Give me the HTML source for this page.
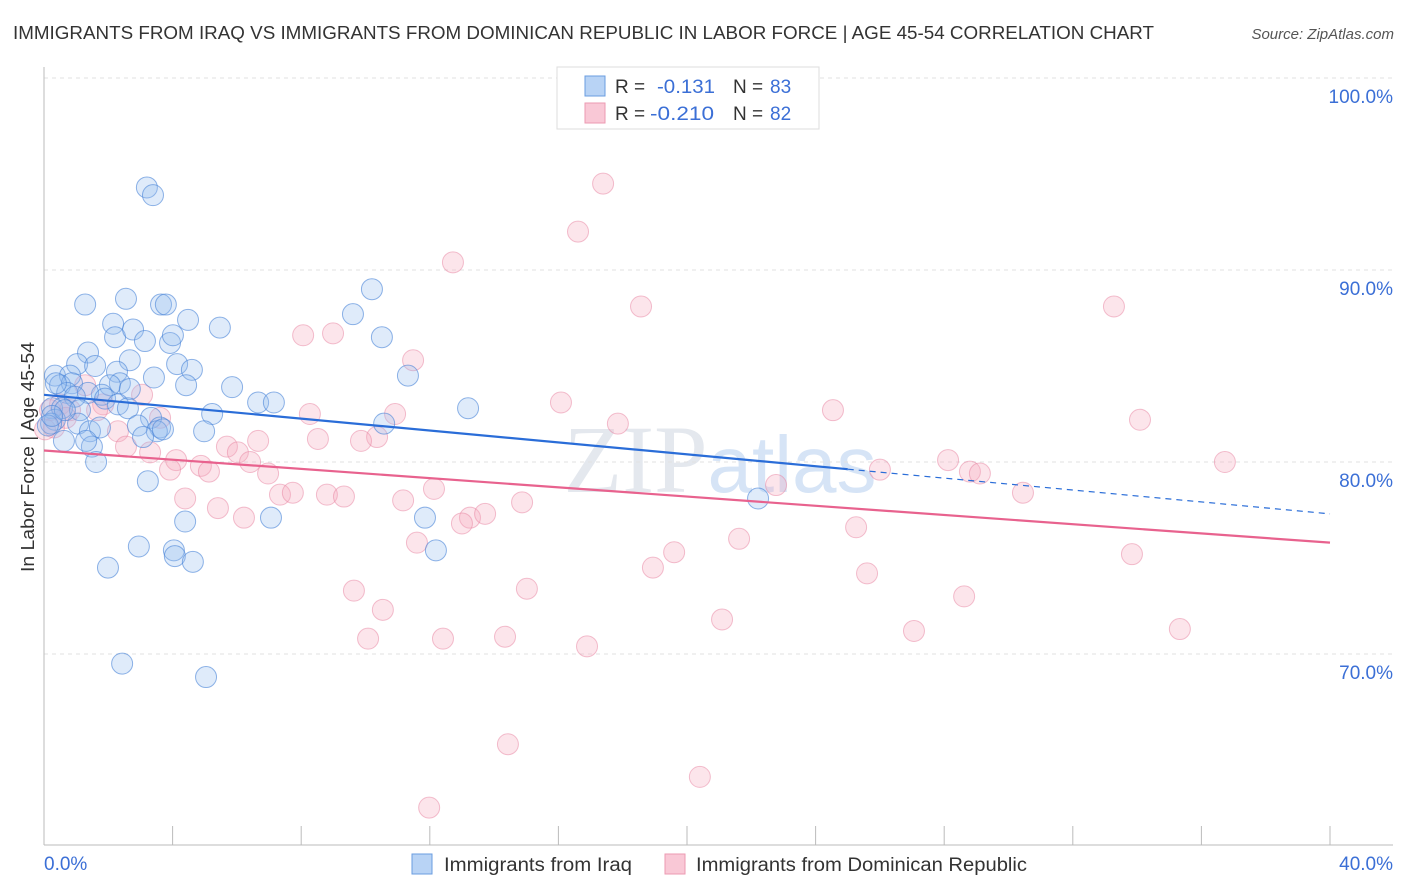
<!DOCTYPE html>
<html><head><meta charset="utf-8"><style>
body{margin:0;background:#fff;font-family:"Liberation Sans",sans-serif;}
</style></head><body>
<svg id="chart" width="1406" height="892" xmlns="http://www.w3.org/2000/svg" style="display:block">
<text x="13" y="39" font-size="18" fill="#333" textLength="1141" lengthAdjust="spacingAndGlyphs">IMMIGRANTS FROM IRAQ VS IMMIGRANTS FROM DOMINICAN REPUBLIC IN LABOR FORCE | AGE 45-54 CORRELATION CHART</text>
<text x="1394" y="39" font-size="15" fill="#555" font-style="italic" text-anchor="end">Source: ZipAtlas.com</text>
<text x="720" y="492" font-size="96" fill="#e4e8ee" text-anchor="middle" font-family="Liberation Serif,serif">ZIP<tspan fill="#d6e4f6" font-family="Liberation Sans,sans-serif" font-size="80">atlas</tspan></text>
<g id="grid"></g><g id="axes"></g><g id="pts"></g><g id="trend"></g>
<text transform="translate(34,457) rotate(-90)" font-size="18" fill="#333" text-anchor="middle" textLength="230" lengthAdjust="spacingAndGlyphs">In Labor Force | Age 45-54</text>
<g>
<rect x="557" y="67" width="262" height="62" fill="#fff" stroke="#ddd"/>
<rect x="585" y="76" width="20" height="20" fill="#b8d3f5" stroke="#6a9ce0"/>
<rect x="585" y="103" width="20" height="20" fill="#f9c8d6" stroke="#ec9ab2"/>
<text x="615" y="93" font-size="19" fill="#333">R =</text>
<text x="657" y="93" font-size="19" fill="#3b6fd6" textLength="58" lengthAdjust="spacingAndGlyphs">-0.131</text>
<text x="733" y="93" font-size="19" fill="#333">N =</text>
<text x="770" y="93" font-size="19" fill="#3b6fd6">83</text>
<text x="615" y="120" font-size="19" fill="#333">R =</text>
<text x="650" y="120" font-size="19" fill="#3b6fd6" textLength="64" lengthAdjust="spacingAndGlyphs">-0.210</text>
<text x="733" y="120" font-size="19" fill="#333">N =</text>
<text x="770" y="120" font-size="19" fill="#3b6fd6">82</text>
</g>
<g>
<rect x="412" y="854" width="20" height="20" fill="#b8d3f5" stroke="#6a9ce0"/>
<text x="444" y="871" font-size="19" fill="#333" textLength="188" lengthAdjust="spacingAndGlyphs">Immigrants from Iraq</text>
<rect x="665" y="854" width="20" height="20" fill="#f9c8d6" stroke="#ec9ab2"/>
<text x="696" y="871" font-size="19" fill="#333" textLength="331" lengthAdjust="spacingAndGlyphs">Immigrants from Dominican Republic</text>
</g>
</svg>
<script>
const yTicks=[100,90,80,70];
const yTickLabels=["100.0%","90.0%","80.0%","70.0%"];
const xTicks=[0,4,8,12,16,20,24,28,32,36,40];
const xEndLabels=["0.0%","40.0%"];
const iraqX=[3.20,3.39,1.28,2.55,3.64,3.79,4.48,5.47,2.15,2.21,2.77,3.14,3.92,4.01,1.37,1.03,2.67,1.59,4.14,4.60,2.27,3.42,0.34,0.81,0.50,0.87,2.36,2.05,4.42,5.85,1.80,2.67,1.37,0.72,0.96,1.90,2.30,2.61,0.25,0.56,1.12,3.33,5.23,0.34,1.06,1.43,1.74,2.92,3.61,3.51,3.70,3.08,4.98,1.49,1.62,0.22,3.23,6.66,7.15,10.20,9.61,10.51,11.32,10.58,13.19,11.85,12.19,7.06,4.39,2.95,4.04,4.07,4.63,1.99,2.43,5.04,22.21,0.37,0.65,0.12,0.25,1.31,0.62];
const iraqY=[94.3,93.9,88.2,88.5,88.2,88.2,87.4,87.0,87.2,86.5,86.9,86.3,86.2,86.6,85.7,85.1,85.3,85.0,85.1,84.8,84.7,84.4,84.5,84.5,84.0,84.1,84.1,84.0,84.0,83.9,83.5,83.8,83.6,83.6,83.4,83.3,83.0,82.8,82.8,82.8,82.7,82.3,82.5,82.2,82.0,81.6,81.8,81.9,81.8,81.6,81.7,81.3,81.6,80.8,80.0,82.0,79.0,83.1,83.1,89.0,87.7,86.5,84.5,82.0,82.8,77.1,75.4,77.1,76.9,75.6,75.4,75.1,74.8,74.5,69.5,68.8,78.1,84.1,82.7,81.9,82.4,81.1,81.1];
const domX=[17.39,16.61,12.72,18.57,33.28,8.06,8.99,11.48,1.28,3.05,1.84,0.50,0.19,0.81,16.08,24.54,10.92,8.27,34.09,17.85,3.61,2.30,10.36,9.86,8.52,6.66,5.69,6.03,2.55,3.30,4.11,6.41,4.88,5.13,3.92,6.97,26.00,36.73,28.12,28.80,29.11,7.34,7.74,8.80,9.33,4.39,12.13,11.17,14.87,5.41,6.22,13.25,13.72,13.00,22.77,30.45,25.26,21.62,19.60,18.94,25.60,33.84,11.60,9.64,10.54,15.02,28.62,21.09,27.06,35.33,10.08,12.41,14.34,16.89,14.43,20.40,11.98,0.31,0.03,1.65,0.68];
const domY=[94.5,92.0,90.4,88.1,88.1,86.6,86.7,85.3,84.0,83.5,83.0,83.0,82.7,82.7,83.1,82.7,82.5,82.5,82.2,82.0,82.3,81.6,81.3,81.1,81.2,81.1,80.8,80.5,80.8,80.5,80.1,80.0,79.8,79.5,79.6,79.4,79.6,80.0,80.1,79.5,79.4,78.3,78.4,78.3,78.2,78.1,78.6,78.0,77.9,77.6,77.1,77.1,77.3,76.8,78.8,78.4,76.6,76.0,75.3,74.5,74.2,75.2,75.8,73.3,72.3,73.4,73.0,71.8,71.2,71.3,70.8,70.8,70.9,70.4,65.3,63.6,62.0,81.8,81.7,82.7,82.3];
const iraqTrend=[83.5,77.3];
const iraqSolidEnd=[25.0];
const domTrend=[80.6,75.8];
const NS="http://www.w3.org/2000/svg";
const X=v=>44+v*(1286/40);
const Y=v=>78+(100-v)*19.2;
function mk(tag,attrs,parent){const e=document.createElementNS(NS,tag);for(const k in attrs)e.setAttribute(k,attrs[k]);parent.appendChild(e);return e;}
const grid=document.getElementById('grid'),axes=document.getElementById('axes'),pts=document.getElementById('pts'),tr=document.getElementById('trend');
yTicks.forEach((t,i)=>{
 const l=mk('line',{x1:44,x2:1393,y1:Y(t),y2:Y(t),stroke:'#e2e2e2','stroke-dasharray':'4,4'},grid);
 
 
 const tx=mk('text',{x:1393,y:Y(t)+25,'font-size':19,fill:'#3b6fd6','text-anchor':'end'},grid);
 tx.textContent=yTickLabels[i];
 
 
});
const ya=mk('line',{x1:44,x2:44,y1:67,y2:845,stroke:'#bbb'},axes);


const xa=mk('line',{x1:44,x2:1393,y1:845,y2:845,stroke:'#bbb'},axes);


xTicks.forEach(t=>{
 const l=mk('line',{x1:X(t),x2:X(t),y1:826,y2:845,stroke:'#bbb'},axes);
 
 
});
const xl0=mk('text',{x:44,y:870,'font-size':19,fill:'#3b6fd6'},axes);xl0.textContent=xEndLabels[0];


const xl1=mk('text',{x:1393,y:870,'font-size':19,fill:'#3b6fd6','text-anchor':'end'},axes);xl1.textContent=xEndLabels[1];


domX.forEach((v,i)=>{
 const c=mk('circle',{cx:X(v),cy:Y(domY[i]),r:10.5,fill:'rgba(244,168,190,0.3)',stroke:'rgba(232,130,160,0.5)','stroke-width':1},pts);
 
 
});
iraqX.forEach((v,i)=>{
 const c=mk('circle',{cx:X(v),cy:Y(iraqY[i]),r:10.5,fill:'rgba(150,190,240,0.3)',stroke:'rgba(70,130,215,0.6)','stroke-width':1},pts);
 
 
});
const iy=x=>iraqTrend[0]+(iraqTrend[1]-iraqTrend[0])*x/40;
const t1=mk('line',{x1:X(0),y1:Y(iy(0)),x2:X(iraqSolidEnd[0]),y2:Y(iy(iraqSolidEnd[0])),stroke:'#2a6dd8','stroke-width':2.2},tr);


const t2=mk('line',{x1:X(iraqSolidEnd[0]),y1:Y(iy(iraqSolidEnd[0])),x2:X(40),y2:Y(iy(40)),stroke:'#2a6dd8','stroke-width':1.2,'stroke-dasharray':'6,5'},tr);


const t3=mk('line',{x1:X(0),y1:Y(domTrend[0]),x2:X(40),y2:Y(domTrend[1]),stroke:'#e8628e','stroke-width':2.2},tr);


</script>
</body></html>
